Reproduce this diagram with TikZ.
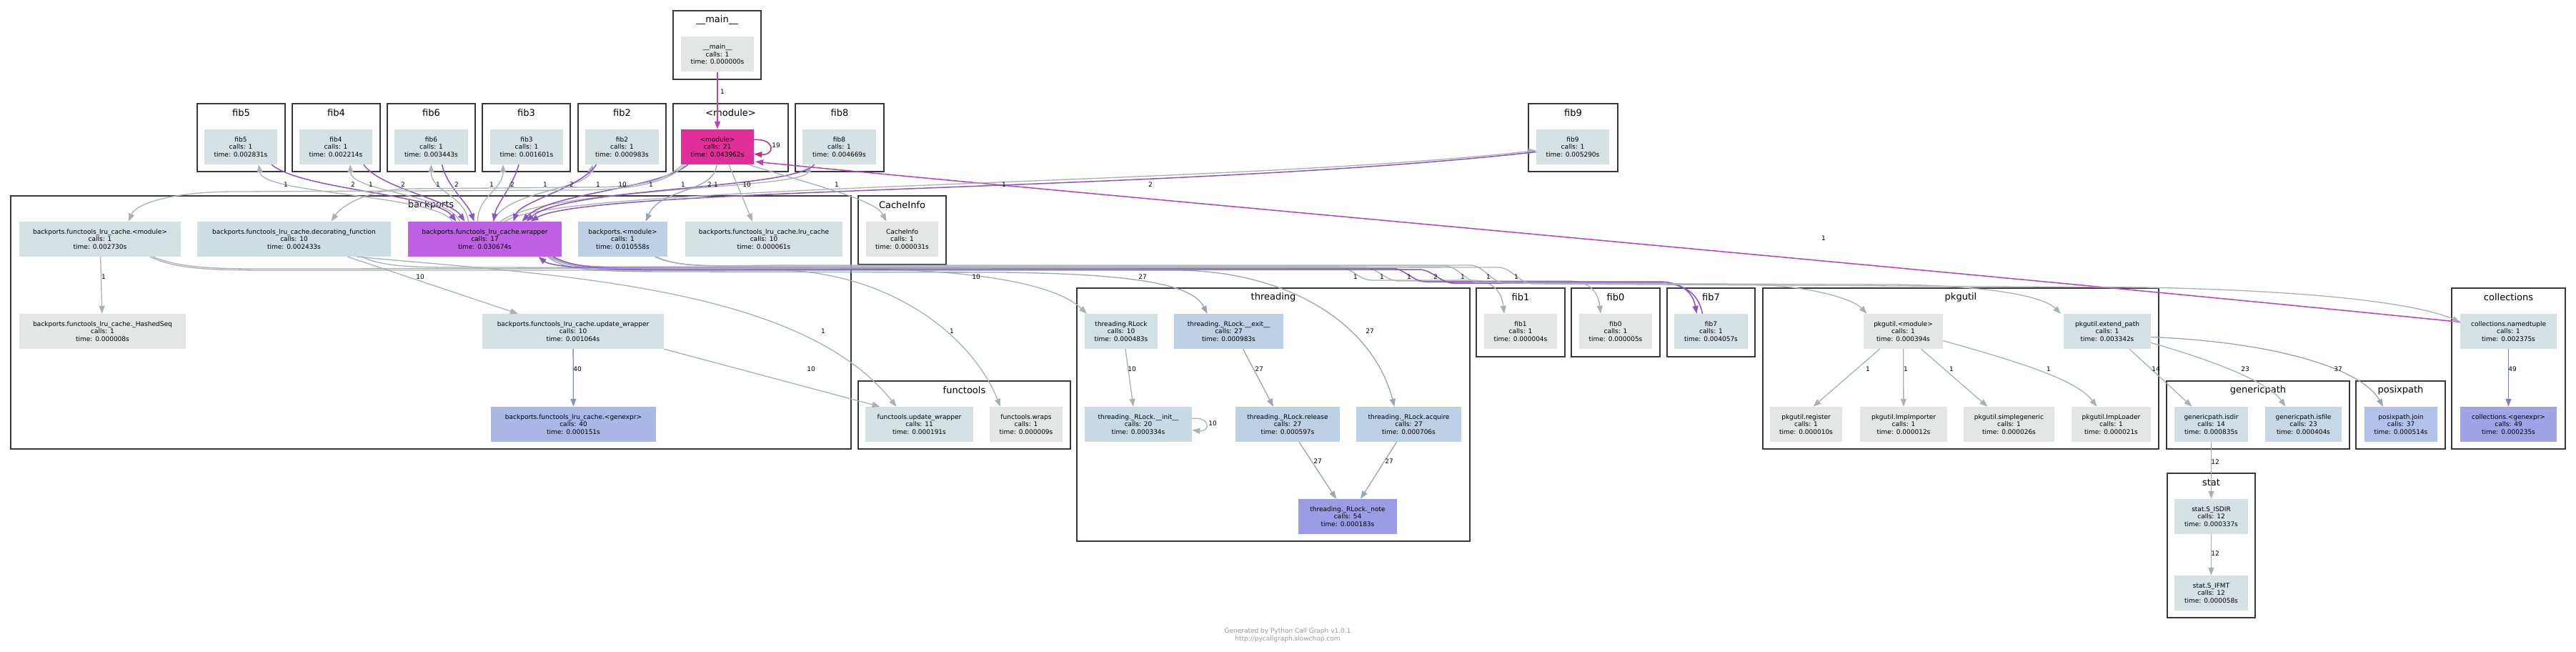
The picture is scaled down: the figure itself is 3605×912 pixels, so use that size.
\documentclass[tikz,border=0pt]{standalone}
\usepackage{fontspec}
\setmainfont{DejaVu Sans}
\usetikzlibrary{arrows.meta}
\definecolor{cGray}{HTML}{E4E5E5}
\definecolor{cFib}{HTML}{D6E1E3}
\definecolor{cDeco}{HTML}{CFDEE5}
\definecolor{cWrap}{HTML}{C060E4}
\definecolor{cMod}{HTML}{E22E98}
\definecolor{cBmod}{HTML}{BED0E6}
\definecolor{cRlock}{HTML}{D3E0E4}
\definecolor{cRinit}{HTML}{C8DBE5}
\definecolor{cGdir}{HTML}{D0DFE6}
\definecolor{cGfile}{HTML}{C6D8E6}
\definecolor{cBgen}{HTML}{ABB8E6}
\definecolor{cPjoin}{HTML}{B2C2EA}
\definecolor{cNote}{HTML}{9C9CE6}
\definecolor{cCgen}{HTML}{A0A3E6}
\definecolor{clgray}{HTML}{383838}
\definecolor{egrey}{HTML}{A9B1B6}
\definecolor{ebgc}{HTML}{97A5B6}
\definecolor{epc}{HTML}{8A57C2}
\definecolor{epinkc}{HTML}{C23CBC}
\definecolor{eloopc}{HTML}{C0307A}
\definecolor{egenc}{HTML}{8A94BA}
\definecolor{ecgenc}{HTML}{7D86BA}
\definecolor{footc}{HTML}{999999}
\newcount\lbn
\newcommand\cgnode[6]{\node[fnode, fill=#5, minimum width=#4pt] (#1) at (#2,#3) {#6};}
\newcommand\clu[6]{\draw[clbox] (#2,#3) rectangle (#4,#5); \node[cltitle] (#1) at ({(#2+#4)/2},{#3+13}) {#6};}
\newcommand\elab[3]{\global\advance\lbn by 1\relax\node[elbl] (lbl\the\lbn) at (#1,#2) {#3};}
\begin{document}
\begin{tikzpicture}[x=1pt,y=-1pt,
  fnode/.style={rectangle, inner sep=0pt, minimum height=49pt, align=center, font=\fontsize{9}{10.5}\selectfont, text=black},
  clbox/.style={draw=clgray, line width=2.6pt, fill=white},
  cltitle/.style={font=\fontsize{13}{15}\selectfont, inner sep=0pt},
  elbl/.style={font=\fontsize{9}{10}\selectfont, inner sep=0pt},
  ed/.style={line width=1.3pt, -{Triangle[length=11pt,width=8pt]}},
  eg/.style={ed, draw=egrey},
  ebg/.style={ed, draw=ebgc},
  ep/.style={ed, draw=epc, line width=1.5pt},
  epink/.style={ed, draw=epinkc, line width=1.5pt},
  eloop/.style={ed, draw=eloopc, line width=1.5pt},
  egen/.style={ed, draw=egenc},
  ecgen/.style={ed, draw=ecgenc}]
\useasboundingbox (0,0) rectangle (3605,912);
\fill[white] (0,0) rectangle (3605,912);

% clusters
\clu{tmain}{942}{15}{1065}{111}{\_\_main\_\_}
\clu{tf5}{276}{145}{399}{240}{fib5}
\clu{tf4}{409}{145}{532}{240}{fib4}
\clu{tf6}{542}{145}{665}{240}{fib6}
\clu{tf3}{675}{145}{798}{240}{fib3}
\clu{tf2}{809}{145}{932}{240}{fib2}
\clu{tmod}{942}{145}{1103}{240}{<module>}
\clu{tf8}{1113}{145}{1237}{240}{fib8}
\clu{tf9}{2139}{145}{2264}{240}{fib9}
\clu{tback}{15}{274}{1191}{628}{backports}
\clu{tci}{1201}{274}{1324}{370}{CacheInfo}
\clu{tfunc}{1201}{533}{1498}{628}{functools}
\clu{tthr}{1507}{403}{2057}{757}{threading}
\clu{tf1}{2066}{403}{2190}{499}{fib1}
\clu{tf0}{2199}{403}{2323}{499}{fib0}
\clu{tf7}{2333}{403}{2456}{499}{fib7}
\clu{tpkg}{2467}{403}{3021}{628}{pkgutil}
\clu{tgen}{3032}{533}{3288}{628}{genericpath}
\clu{tpos}{3297}{533}{3422}{628}{posixpath}
\clu{tcol}{3431}{403}{3590}{628}{collections}
\clu{tstat}{3033}{662}{3156}{864}{stat}

% nodes
\cgnode{main}{1004}{76}{102}{cGray}{\_\_main\_\_\\calls: 1\\time: 0.000000s}
\cgnode{f5}{337}{205.5}{102}{cFib}{fib5\\calls: 1\\time: 0.002831s}
\cgnode{f4}{470}{205.5}{102}{cFib}{fib4\\calls: 1\\time: 0.002214s}
\cgnode{f6}{603.5}{205.5}{103}{cFib}{fib6\\calls: 1\\time: 0.003443s}
\cgnode{f3}{737}{205.5}{102}{cFib}{fib3\\calls: 1\\time: 0.001601s}
\cgnode{f2}{870.5}{205.5}{103}{cFib}{fib2\\calls: 1\\time: 0.000983s}
\cgnode{mod}{1004}{205.5}{102}{cMod}{<module>\\calls: 21\\time: 0.043962s}
\cgnode{f8}{1174.5}{205.5}{103}{cFib}{fib8\\calls: 1\\time: 0.004669s}
\cgnode{f9}{2201}{205.5}{102}{cFib}{fib9\\calls: 1\\time: 0.005290s}
\cgnode{blmod}{140}{334.5}{226}{cFib}{backports.functools\_lru\_cache.<module>\\calls: 1\\time: 0.002730s}
\cgnode{deco}{411.5}{334.5}{271}{cDeco}{backports.functools\_lru\_cache.decorating\_function\\calls: 10\\time: 0.002433s}
\cgnode{wrap}{678.5}{334.5}{215}{cWrap}{backports.functools\_lru\_cache.wrapper\\calls: 17\\time: 0.030674s}
\cgnode{bmod}{871.5}{334.5}{125}{cBmod}{backports.<module>\\calls: 1\\time: 0.010558s}
\cgnode{lru}{1069}{334.5}{220}{cFib}{backports.functools\_lru\_cache.lru\_cache\\calls: 10\\time: 0.000061s}
\cgnode{ci}{1262.5}{334.5}{101}{cGray}{CacheInfo\\calls: 1\\time: 0.000031s}
\cgnode{hseq}{143.5}{463.5}{233}{cGray}{backports.functools\_lru\_cache.\_HashedSeq\\calls: 1\\time: 0.000008s}
\cgnode{bupd}{802}{463.5}{254}{cFib}{backports.functools\_lru\_cache.update\_wrapper\\calls: 10\\time: 0.001064s}
\cgnode{rlock}{1569}{463.5}{102}{cRlock}{threading.RLock\\calls: 10\\time: 0.000483s}
\cgnode{rexit}{1719.5}{463.5}{153}{cBmod}{threading.\_RLock.\_\_exit\_\_\\calls: 27\\time: 0.000983s}
\cgnode{f1}{2128}{463.5}{102}{cGray}{fib1\\calls: 1\\time: 0.000004s}
\cgnode{f0}{2261}{463.5}{102}{cGray}{fib0\\calls: 1\\time: 0.000005s}
\cgnode{f7}{2394.5}{463.5}{103}{cFib}{fib7\\calls: 1\\time: 0.004057s}
\cgnode{pmod}{2663.5}{463.5}{111}{cGray}{pkgutil.<module>\\calls: 1\\time: 0.000394s}
\cgnode{pext}{2949}{463.5}{122}{cFib}{pkgutil.extend\_path\\calls: 1\\time: 0.003342s}
\cgnode{ntup}{3510.5}{463.5}{135}{cFib}{collections.namedtuple\\calls: 1\\time: 0.002375s}
\cgnode{bgen}{802.5}{593.5}{231}{cBgen}{backports.functools\_lru\_cache.<genexpr>\\calls: 40\\time: 0.000151s}
\cgnode{fupd}{1286.5}{593.5}{151}{cFib}{functools.update\_wrapper\\calls: 11\\time: 0.000191s}
\cgnode{fwraps}{1436}{593.5}{102}{cGray}{functools.wraps\\calls: 1\\time: 0.000009s}
\cgnode{rinit}{1593}{593.5}{150}{cRinit}{threading.\_RLock.\_\_init\_\_\\calls: 20\\time: 0.000334s}
\cgnode{rrel}{1802}{593.5}{146}{cBmod}{threading.\_RLock.release\\calls: 27\\time: 0.000597s}
\cgnode{racq}{1971.5}{593.5}{147}{cBmod}{threading.\_RLock.acquire\\calls: 27\\time: 0.000706s}
\cgnode{preg}{2527.5}{593.5}{101}{cGray}{pkgutil.register\\calls: 1\\time: 0.000010s}
\cgnode{pimp}{2664}{593.5}{122}{cGray}{pkgutil.ImpImporter\\calls: 1\\time: 0.000012s}
\cgnode{psim}{2811.5}{593.5}{127}{cGray}{pkgutil.simplegeneric\\calls: 1\\time: 0.000026s}
\cgnode{pload}{2954.5}{593.5}{111}{cGray}{pkgutil.ImpLoader\\calls: 1\\time: 0.000021s}
\cgnode{gdir}{3094.5}{593.5}{103}{cGdir}{genericpath.isdir\\calls: 14\\time: 0.000835s}
\cgnode{gfile}{3223.5}{593.5}{107}{cGfile}{genericpath.isfile\\calls: 23\\time: 0.000404s}
\cgnode{pjoin}{3360}{593.5}{102}{cPjoin}{posixpath.join\\calls: 37\\time: 0.000514s}
\cgnode{cgen}{3510.5}{593.5}{135}{cCgen}{collections.<genexpr>\\calls: 49\\time: 0.000235s}
\cgnode{note}{1886}{722.5}{138}{cNote}{threading.\_RLock.\_note\\calls: 54\\time: 0.000183s}
\cgnode{sisdir}{3094.5}{722.5}{103}{cFib}{stat.S\_ISDIR\\calls: 12\\time: 0.000337s}
\cgnode{sifmt}{3094.5}{829.5}{103}{cFib}{stat.S\_IFMT\\calls: 12\\time: 0.000058s}

% edges: main / module
\draw[epink] (main) -- (mod);
\draw[eloop] ([yshift=10]mod.east) .. controls +(30,-2) and +(30,2) .. ([yshift=-10]mod.east);
\draw[epink] ([yshift=13]ntup.west) .. controls (2800,385) and (1500,270) .. ([xshift=2,yshift=4]mod.south east);

% wrapper -> fibs (grey, upward)
\draw[eg] ([xshift=-45]wrap.north) .. controls (610,272) and (368,272) .. ([xshift=25]f5.south);
\draw[eg] ([xshift=-35]wrap.north) .. controls (628,272) and (492,268) .. ([xshift=20]f4.south);
\draw[eg] ([xshift=-23]wrap.north) .. controls (650,272) and (603,268) .. (f6.south);
\draw[eg] ([xshift=-10]wrap.north) .. controls (668,275) and (704,265) .. ([xshift=-33]f3.south);
\draw[eg] ([xshift=12]wrap.north) .. controls (705,268) and (820,265) .. ([xshift=-41]f2.south);
\draw[eg] ([xshift=22]wrap.north) .. controls (760,262) and (1125,265) .. ([xshift=-41]f8.south);
\draw[eg] ([xshift=28]wrap.north) .. controls (780,258) and (1700,260) .. ([yshift=-5]f9.west);

% fibs -> wrapper (purple)
\draw[ep] ([xshift=43]f5.south) .. controls (420,265) and (610,272) .. ([xshift=-40]wrap.north);
\draw[ep] ([xshift=39]f4.south) .. controls (530,262) and (630,280) .. ([xshift=-28]wrap.north);
\draw[ep] ([xshift=15]f6.south) .. controls (625,260) and (655,285) .. ([xshift=-15]wrap.north);
\draw[ep] ([xshift=-11]f3.south) .. controls (718,260) and (695,285) .. ([xshift=12]wrap.north);
\draw[ep] ([xshift=-36]f2.south) .. controls (815,262) and (728,282) .. ([xshift=40]wrap.north);
\draw[ep] ([xshift=-41]mod.south) .. controls (920,265) and (770,270) .. ([xshift=52]wrap.north);
\draw[ep] ([xshift=-35]f8.south) .. controls (1110,265) and (790,262) .. ([xshift=58]wrap.north);
\draw[ep] ([yshift=-7]f9.west) .. controls (1650,268) and (820,262) .. ([xshift=64]wrap.north);

% module -> backports nodes
\draw[eg] ([xshift=-45]mod.south) .. controls (930,262) and (860,266) .. (800,266) -- (330,268) .. controls (240,268) and (190,285) .. ([xshift=40]blmod.north);
\draw[eg] ([xshift=-48]mod.south) .. controls (925,258) and (880,262) .. (820,262) -- (570,264) .. controls (520,265) and (480,285) .. ([xshift=52]deco.north);
\draw[ebg] ([xshift=-1]mod.south) .. controls (1000,270) and (925,262) .. ([xshift=32]bmod.north);
\draw[eg] ([xshift=16]mod.south) -- ([xshift=-16]lru.north);
\draw[eg] ([xshift=43]mod.south) .. controls (1150,262) and (1225,280) .. ([xshift=-22]ci.north);

% backports internal
\draw[eg] (blmod) -- (hseq);
\draw[eg] ([xshift=75]deco.south) -- ([xshift=-77]bupd.north);
\draw[egen] (bupd) -- (bgen);
\draw[eg] (bupd.south east) -- ([xshift=-55]fupd.north);
\draw[eg] ([xshift=88]deco.south) .. controls (780,385) and (1120,400) .. ([xshift=-32]fupd.north);
\draw[eg] ([xshift=70]blmod.south) .. controls (250,378) and (300,378) .. (400,378) -- (1100,378) .. controls (1250,385) and (1360,470) .. ([xshift=-36]fwraps.north);
\draw[eg] ([xshift=95]deco.south) .. controls (540,376) and (600,374) .. (700,374) -- (1200,376) .. controls (1380,378) and (1480,400) .. ([xshift=-48]rlock.north);
\draw[ebg] ([xshift=88]wrap.south) .. controls (790,378) and (830,380) .. (950,380) -- (1400,381) .. controls (1600,383) and (1670,400) .. ([xshift=-30]rexit.north);
\draw[ebg] ([xshift=90]wrap.south) .. controls (800,377) and (840,378) .. (950,378) -- (1650,378) .. controls (1800,380) and (1920,450) .. ([xshift=-20]racq.north);

% right-going bundle
\draw[eg] ([xshift=92]wrap.south) .. controls (800,375) and (840,373) .. (900,373) -- (1872,373) .. controls (1890,373) and (1902,392) .. (1920,392) -- (2060,392) .. controls (2092,392) and (2102,412) .. ([xshift=-23]f1.north);
\draw[eg] ([xshift=94]wrap.south) .. controls (805,376) and (845,374) .. (905,374) -- (1909,374) .. controls (1927,374) and (1939,393) .. (1957,393) -- (2195,393) .. controls (2228,393) and (2237,412) .. ([xshift=-21]f0.north);
\draw[ep] ([xshift=96]wrap.south) .. controls (808,377) and (850,375) .. (910,375) -- (1947,375) .. controls (1965,375) and (1977,394) .. (1995,394) -- (2320,394) .. controls (2360,394) and (2370,415) .. ([xshift=-20]f7.north);
\draw[ep] ([xshift=-12]f7.north) .. controls (2377,412) and (2360,396) .. (2320,396) -- (2034,396) .. controls (2016,396) and (2004,377) .. (1986,377) -- (900,377) .. controls (820,377) and (770,372) .. ([xshift=75]wrap.south);
\draw[eg] ([xshift=45]bmod.south) .. controls (950,375) and (1000,372) .. (1100,372) -- (2022,372) .. controls (2040,372) and (2052,395) .. (2070,395) -- (2450,398) .. controls (2540,400) and (2595,420) .. ([xshift=-51]pmod.north);
\draw[eg] ([xshift=47]bmod.south) .. controls (955,376) and (1010,371) .. (1110,371) -- (2058,371) .. controls (2076,371) and (2088,396) .. (2106,396) -- (2650,398) .. controls (2790,400) and (2860,415) .. ([xshift=-65]pext.north);
\draw[eg] ([xshift=74]blmod.south) .. controls (260,378) and (320,376) .. (420,376) -- (2097,374) .. controls (2115,374) and (2127,397) .. (2145,397) -- (3000,402) .. controls (3300,408) and (3400,432) .. ([yshift=13]ntup.west);

% threading
\draw[eg] ([xshift=6]rlock.south) -- ([xshift=-7]rinit.north);
\draw[eg] ([yshift=8]rinit.east) .. controls +(26,-3) and +(26,3) .. ([yshift=-8]rinit.east);
\draw[ebg] ([xshift=20]rexit.south) -- ([xshift=-20]rrel.north);
\draw[ebg] ([xshift=16]rrel.south) -- ([xshift=-16]note.north);
\draw[ebg] ([xshift=-17]racq.south) -- ([xshift=18]note.north);

% pkgutil, genericpath, posixpath, collections, stat
\draw[eg] ([xshift=-33]pmod.south) -- ([xshift=10]preg.north);
\draw[eg] (pmod) -- (pimp);
\draw[eg] ([xshift=25]pmod.south) -- ([xshift=-30]psim.north);
\draw[eg] ([yshift=-13]pmod.east) .. controls (2820,505) and (2905,530) .. ([xshift=-20]pload.north);
\draw[eg] ([xshift=31]pext.south) -- ([xshift=-27]gdir.north);
\draw[eg] ([yshift=-16]pext.east) .. controls (3100,505) and (3175,535) .. ([xshift=-25]gfile.north);
\draw[ebg] ([yshift=-8]pext.east) .. controls (3180,478) and (3305,515) .. ([xshift=-25]pjoin.north);
\draw[ecgen] (ntup) -- (cgen);
\draw[eg] (gdir) -- (sisdir);
\draw[eg] (sisdir) -- (sifmt);

% edge labels
\elab{1011}{128}{1}
\elab{1086}{203}{19}
\elab{400}{258}{1}\elab{494}{258}{2}\elab{519}{258}{1}\elab{564}{258}{2}
\elab{613}{258}{1}\elab{639}{258}{2}\elab{688}{258}{1}\elab{717}{258}{2}
\elab{763}{258}{1}\elab{800}{258}{2}\elab{837}{258}{1}\elab{871}{258}{10}
\elab{911}{258}{1}\elab{956}{258}{1}\elab{993}{258}{2}\elab{1002}{258}{1}
\elab{1045}{258}{10}\elab{1171}{258}{1}\elab{1405}{258}{1}\elab{1610}{258}{2}
\elab{2552}{333}{1}
\elab{145}{387}{1}\elab{588}{387}{10}\elab{1366}{387}{10}\elab{1599}{387}{27}
\elab{1897}{387}{1}\elab{1934}{387}{1}\elab{1972}{387}{1}\elab{2009}{387}{2}
\elab{2047}{387}{1}\elab{2083}{387}{1}\elab{2122}{387}{1}
\elab{1152}{463}{1}\elab{1332}{463}{1}\elab{1917}{463}{27}
\elab{808}{516}{40}\elab{1135}{516}{10}\elab{1584}{516}{10}\elab{1762}{516}{27}
\elab{2614}{516}{1}\elab{2667}{516}{1}\elab{2731}{516}{1}\elab{2867}{516}{1}
\elab{3017}{516}{14}\elab{3142}{516}{23}\elab{3272}{516}{37}\elab{3516}{516}{49}
\elab{1697}{592}{10}
\elab{1844}{645}{27}\elab{1944}{645}{27}
\elab{3100}{646}{12}\elab{3100}{774}{12}

% footer
\node[font=\fontsize{9}{11}\selectfont, text=footc, align=center] (footer) at (1802,889) {Generated by Python Call Graph v1.0.1\\http://pycallgraph.slowchop.com};
\end{tikzpicture}
\end{document}
